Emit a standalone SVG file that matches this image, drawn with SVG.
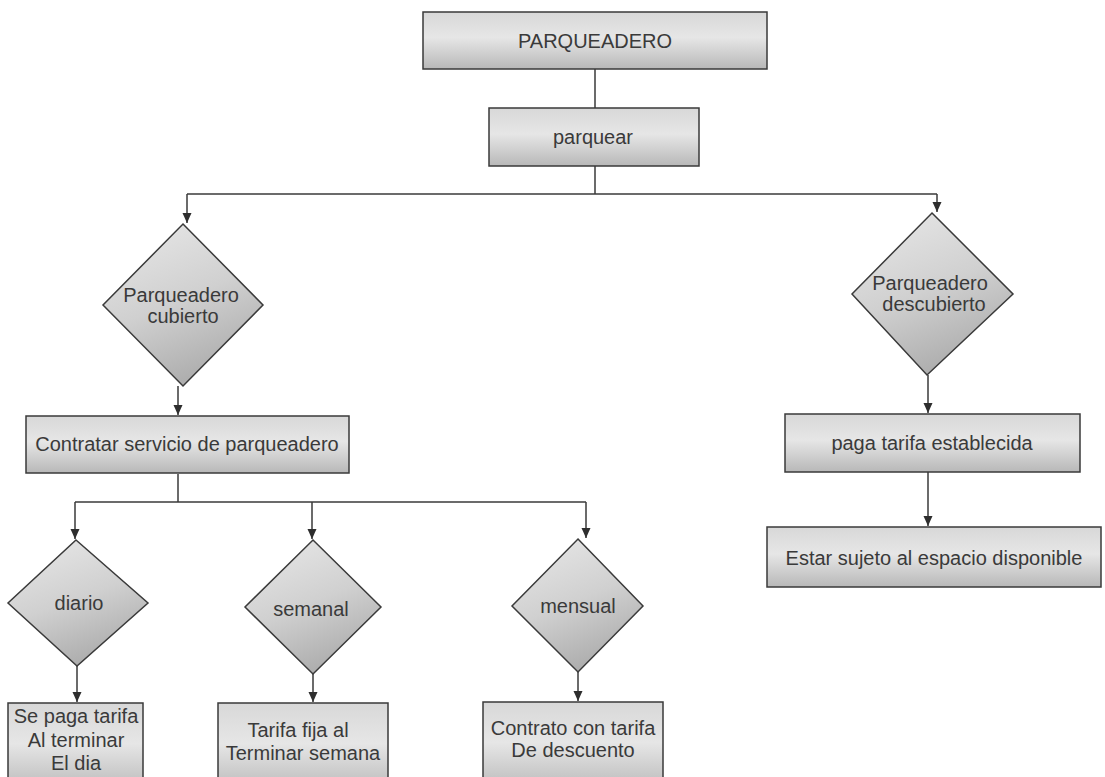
<svg xmlns="http://www.w3.org/2000/svg" width="1105" height="777" viewBox="0 0 1105 777">
  <defs>
    <linearGradient id="boxFill" x1="0" y1="0" x2="0" y2="1">
      <stop offset="0" stop-color="#d8d8d8"/>
      <stop offset="0.45" stop-color="#e6e6e6"/>
      <stop offset="1" stop-color="#b8b8b8"/>
    </linearGradient>
    <linearGradient id="diamondFill" x1="0.2" y1="0" x2="0.6" y2="1">
      <stop offset="0" stop-color="#e6e6e6"/>
      <stop offset="0.5" stop-color="#d0d0d0"/>
      <stop offset="1" stop-color="#aaaaaa"/>
    </linearGradient>
    <marker id="arrow" markerUnits="userSpaceOnUse" markerWidth="12" markerHeight="12" refX="10" refY="6" orient="auto">
      <path d="M0,1.5 L10,6 L0,10.5 Z" fill="#2e2e2e"/>
    </marker>
  </defs>
  <style>
    .box { fill: url(#boxFill); stroke: #3a3a3a; stroke-width: 1.5; }
    .dia { fill: url(#diamondFill); stroke: #3a3a3a; stroke-width: 1.5; }
    .lbl { font-family: "Liberation Sans", Arial, sans-serif; font-size: 20px; fill: #3a3a3a; text-anchor: middle; }
    .line { fill: none; stroke: #3a3a3a; stroke-width: 1.5; }
    .arr { fill: none; stroke: #3a3a3a; stroke-width: 1.5; marker-end: url(#arrow); }
  </style>
  <rect width="1105" height="777" fill="#ffffff"/>

  <!-- connectors -->
  <g id="connectors">
    <path class="line" d="M595,69 V108"/>
    <path class="line" d="M595,166 V194"/>
    <path class="line" d="M187,194 H937"/>
    <path class="arr" d="M187,194 V223"/>
    <path class="arr" d="M937,194 V212"/>
    <path class="arr" d="M178,386 V415"/>
    <path class="line" d="M178,474 V502"/>
    <path class="line" d="M75,502 H586"/>
    <path class="arr" d="M75,502 V539"/>
    <path class="arr" d="M312,502 V539"/>
    <path class="arr" d="M586,502 V538"/>
    <path class="arr" d="M77,666 V702"/>
    <path class="arr" d="M313,674 V702"/>
    <path class="arr" d="M578,672 V701"/>
    <path class="arr" d="M928,375 V413"/>
    <path class="arr" d="M928,472 V526"/>
  </g>

  <g id="parqueadero">
    <rect class="box" x="423" y="12" width="344" height="57"/>
    <text class="lbl" x="595" y="48">PARQUEADERO</text>
  </g>

  <g id="parquear">
    <rect class="box" x="489" y="108" width="210" height="58"/>
    <text class="lbl" x="593" y="144">parquear</text>
  </g>

  <g id="cubierto">
    <polygon class="dia" points="183,224 263,305 183,386 103,305"/>
    <text class="lbl" x="181" y="302">Parqueadero</text>
    <text class="lbl" x="183" y="323">cubierto</text>
  </g>

  <g id="descubierto">
    <polygon class="dia" points="932,213 1013,294 927,375 852,294"/>
    <text class="lbl" x="930" y="290">Parqueadero</text>
    <text class="lbl" x="934" y="311">descubierto</text>
  </g>

  <g id="contratar">
    <rect class="box" x="26" y="416" width="323" height="57"/>
    <text class="lbl" x="187" y="451">Contratar servicio de parqueadero</text>
  </g>

  <g id="paga">
    <rect class="box" x="785" y="414" width="295" height="58"/>
    <text class="lbl" x="932" y="450">paga tarifa establecida</text>
  </g>

  <g id="sujeto">
    <rect class="box" x="767" y="527" width="334" height="60"/>
    <text class="lbl" x="934" y="565">Estar sujeto al espacio disponible</text>
  </g>

  <g id="diario">
    <polygon class="dia" points="76,540 148,603 77,666 8,603"/>
    <text class="lbl" x="79" y="610">diario</text>
  </g>

  <g id="semanal">
    <polygon class="dia" points="313,540 381,607 313,674 245,607"/>
    <text class="lbl" x="311" y="616">semanal</text>
  </g>

  <g id="mensual">
    <polygon class="dia" points="578,539 643,606 578,672 512,606"/>
    <text class="lbl" x="578" y="613">mensual</text>
  </g>

  <g id="tarifa-diaria">
    <rect class="box" x="8" y="703" width="135" height="90"/>
    <text class="lbl" x="76" y="723">Se paga tarifa</text>
    <text class="lbl" x="76" y="747">Al terminar</text>
    <text class="lbl" x="76" y="770">El dia</text>
  </g>

  <g id="tarifa-semanal">
    <rect class="box" x="218" y="703" width="170" height="90"/>
    <text class="lbl" x="298" y="737">Tarifa fija al</text>
    <text class="lbl" x="303" y="760">Terminar semana</text>
  </g>

  <g id="tarifa-mensual">
    <rect class="box" x="483" y="702" width="180" height="90"/>
    <text class="lbl" x="573" y="735">Contrato con tarifa</text>
    <text class="lbl" x="573" y="757">De descuento</text>
  </g>
</svg>
